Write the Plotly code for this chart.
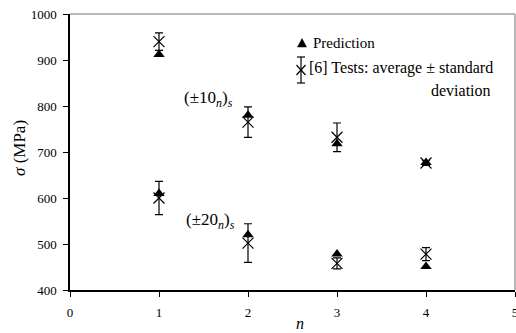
import plotly.graph_objects as go

n_vals = [1, 2, 3, 4]
pred_10 = [912, 780, 718, 677]
test_10 = [940, 765, 732, 676]
err_10 = [19, 33, 31, 5]
pred_20 = [610, 520, 478, 451]
test_20 = [600, 502, 458, 478]
err_20 = [36, 42, 12, 14]
x_ticks = [0, 1, 2, 3, 4, 5]
y_ticks = [400, 500, 600, 700, 800, 900, 1000]

W, H = 516, 333
L, R, T, B = 70, 1, 14, 43
PW, PH = W - L - R, H - T - B

def px(x):
    return (x - L) / PW

def py(y):
    return (H - B - y) / PH

FONT = "Liberation Serif"

fig = go.Figure()

for tv, ev in [(test_10, err_10), (test_20, err_20)]:
    fig.add_trace(go.Scatter(
        x=n_vals, y=tv, mode="markers",
        marker=dict(symbol="x-thin-open", size=11, color="black",
                    line=dict(color="black", width=1.2)),
        error_y=dict(type="data", array=ev, visible=True, color="black",
                     thickness=1.2, width=4),
        showlegend=False, hoverinfo="skip"))

for pv in [pred_10, pred_20]:
    fig.add_trace(go.Scatter(
        x=n_vals, y=pv, mode="markers",
        marker=dict(symbol="triangle-up", size=10, color="black"),
        showlegend=False, hoverinfo="skip"))

shapes = []
shapes.append(dict(type="line", xref="paper", yref="paper", x0=0, x1=1, y0=1, y1=1,
                   line=dict(color="#a0a0a0", width=1.5)))
shapes.append(dict(type="line", xref="paper", yref="paper", x0=1, x1=1, y0=0, y1=1,
                   line=dict(color="#a0a0a0", width=1.5)))
tx, ty = 302, 43
shapes.append(dict(type="path", xref="paper", yref="paper",
                   path=f"M {px(tx-4.5)} {py(ty+4)} L {px(tx+4.5)} {py(ty+4)} L {px(tx)} {py(ty-4.5)} Z",
                   fillcolor="black", line=dict(color="black", width=0.5)))
gx, gy = 301, 70
for (x0, y0, x1, y1) in [(gx, gy-13, gx, gy+13), (gx-4, gy-13, gx+4, gy-13),
                         (gx-4, gy+13, gx+4, gy+13), (gx-4.5, gy-5, gx+4.5, gy+5),
                         (gx-4.5, gy+5, gx+4.5, gy-5)]:
    shapes.append(dict(type="line", xref="paper", yref="paper",
                       x0=px(x0), x1=px(x1), y0=py(y0), y1=py(y1),
                       line=dict(color="black", width=1.2)))

def txt(s, x, y, anchor="left", size=16, yanchor="middle", angle=0):
    return dict(text=s, x=px(x), y=py(y), xref="paper", yref="paper",
                xanchor=anchor, yanchor=yanchor, showarrow=False, textangle=angle,
                font=dict(family=FONT, size=size, color="black"))

annotations = [
    txt("Prediction", 311, 43, size=15),
    txt("[6] Tests: average ± standard", 307, 68, size=16),
    txt("deviation", 461, 90, "center", size=16),
    txt("(±10<sub><i>n</i></sub>)<sub><i>s</i></sub>", 208, 99, "center", 17),
    txt("(±20<sub><i>n</i></sub>)<sub><i>s</i></sub>", 210, 221, "center", 17),
    txt("<i>σ</i> (MPa)", 19, 148, "center", 17, angle=-90),
    txt("<i>n</i>", 300, 334, "center", 16, yanchor="bottom"),
]

fig.update_layout(
    width=W, height=H,
    margin=dict(l=L, r=R, t=T, b=B, pad=0, autoexpand=False),
    paper_bgcolor="white", plot_bgcolor="white",
    font=dict(family=FONT, size=13, color="black"),
    shapes=shapes, annotations=annotations,
    xaxis=dict(range=[0, 5], tickvals=x_ticks, showgrid=False, zeroline=False,
               automargin=False, ticklabeloverflow="allow",
               showline=True, linecolor="black", linewidth=1.5, ticks="outside",
               ticklen=5, tickcolor="black", tickwidth=1.2, ticklabelstandoff=5,
               tickfont=dict(family=FONT, size=13, color="black")),
    yaxis=dict(range=[400, 1000], tickvals=y_ticks,
               showgrid=False, zeroline=False, automargin=False,
               showline=True, linecolor="black", linewidth=1.5, ticks="outside",
               ticklen=5, tickcolor="black", tickwidth=1.2, ticklabelstandoff=4,
               tickfont=dict(family=FONT, size=13, color="black")),
)

fig.write_html("out.html", config={"displayModeBar": False},
               post_script="document.body.style.margin='0';document.body.style.overflow='hidden';")
